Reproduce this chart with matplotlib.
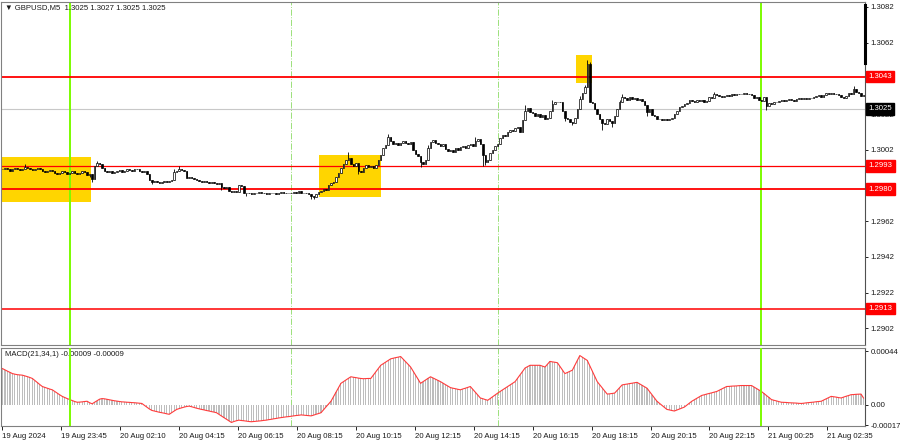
import numpy as np
import matplotlib
matplotlib.use("Agg")
import matplotlib.pyplot as plt
from matplotlib.patches import Rectangle
from matplotlib.transforms import blended_transform_factory

plt.rcParams["font.family"] = ["Liberation Sans", "DejaVu Sans"]

# prices are kept as pips above 1.2900
BASE = 1.2900
PIP = 0.0001

closes_pips = [
    91, 92, 91.5, 90, 91, 92, 91, 90.5, 91, 92.5, 92, 91, 90.5, 91.5, 92, 91, 90, 89.5, 90, 90.5,
    90, 89, 88.5, 89, 90, 89.5, 88.5, 89, 90, 89, 88.5, 89, 90, 89.5, 88, 88.5,
    85.5, 93, 94.5,
    94, 92, 90, 89.5, 90, 89, 89.5, 90, 90.5, 89.5, 90, 91, 90.5, 90, 91, 91.5, 90, 89.5, 90, 88.5,
    85, 84, 84.5, 84, 83.5, 84, 84.5, 84, 84.5, 85,
    89.5, 90, 91.5, 90.5, 90,
    86, 86.5, 86, 85.5,
    85, 84.5, 84, 84.5, 84, 83.5, 84, 83.5, 83, 83.5,
    81, 80.5, 81,
    79, 78.5, 79, 78.5,
    82, 81.5,
    78, 77.5, 78, 77, 77.5, 78, 78.5, 77.5, 78, 77, 77.5, 78, 77.5, 77, 78, 78.5, 77.5, 78, 77.5, 78, 78.5,
    78, 79, 78, 77.5, 78,
    77, 76, 75.5, 77,
    78.5, 79, 80, 79.5,
    82, 83.5, 84,
    87, 89,
    92, 94,
    96.5, 97.5,
    94, 93, 94.5,
    90, 89.5,
    92, 93.5, 92.5, 93, 92, 93.5,
    96, 99, 103, 104.5, 109,
    107, 105.5, 106, 104.5, 106, 107,
    106, 105, 106.5,
    102, 99.5, 98.5, 95, 94, 96, 103,
    106.5, 107.5, 106,
    105, 104, 105,
    102.5, 101.5, 102, 101,
    103, 102, 103.5, 104,
    103, 104.5, 105, 104,
    107, 108, 105, 99, 95, 96, 100, 102, 104, 105.5, 108.5, 110, 109.5,
    112, 113, 112.5, 114, 114.5, 112, 118.5, 124, 125.5, 123, 122.5,
    121, 122, 120.5, 121.5, 119.5, 120, 124, 127.5, 128.5, 129, 128.5,
    123.5, 120, 119.5, 117.5, 117, 120, 125, 130.5, 134, 137, 150, 129,
    128, 125, 122, 119, 117, 116.5, 119, 118, 117, 121, 125, 128.5, 131.5,
    131, 130, 131.5, 130.5, 131, 130, 130.5, 129.5, 127, 123, 125, 121.5, 121,
    119, 119.5, 118.5, 119, 118.5, 119.5, 120, 122, 124, 126, 126.5, 127.5, 128,
    130, 129.5, 129, 130, 129.5, 130, 129, 129.5, 131.5, 131, 133, 132.5,
    132, 131.5, 132, 132.5, 132, 133, 132.5, 133.5, 133, 133.5, 134, 133, 133.5, 132.5,
    131, 131.5, 130, 129.5, 131.5, 126.5, 128, 127.5, 129, 128.5, 129.5,
    130, 129.5, 130, 130.5, 130, 129.5, 130.5, 131, 130.5, 131, 130.5, 131,
    131, 131.5, 132, 132.5, 131.5, 132.5, 134, 133.5, 134, 133, 133.5, 132.5,
    131.5, 131, 132, 134, 133.5, 136, 134.5, 134, 132, 132.5,
]

highs_pips = {9: 94, 36: 88, 38: 95.5, 69: 91, 71: 93, 139: 100.5, 155: 111, 171: 104.5,
              190: 109, 210: 127, 221: 130, 232: 132, 234: 138.5, 235: 152.5, 236: 151,
              248: 130, 249: 133.5, 286: 134.5, 342: 137.5}
lows_pips = {35: 86.5, 36: 84, 60: 83, 88: 79.5, 98: 76, 124: 74.5, 125: 74.5, 143: 88.5,
             168: 92.5, 193: 93, 194: 93.5, 226: 118, 229: 116, 241: 113, 245: 114.5,
             259: 121, 307: 124.5}

# MACD(21,34,1) in units of 1e-5
macd_e5 = [
    29.6, 28.5, 27.5, 26.5, 25.5, 25.0, 24.6, 24.4, 24.2, 23.6, 23.0, 22.3, 21.5,
    19.8, 18.2, 16.5, 14.9, 14.2, 13.5, 12.8, 12.2, 10.8, 9.5, 8.1, 6.8, 5.9, 5.0, 4.2,
    3.4, 2.6, 2.0, 2.1, 2.3, 2.6, 2.8, 1.6, 0.7, 2.0, 3.3, 4.5, 5.0, 4.8, 4.4, 4.0, 3.6,
    3.2, 2.9, 2.6, 2.3, 2.2, 2.0, 1.9, 1.7, 1.6, 1.4, 1.2, 1.0, -0.5, -2.0, -3.5, -4.7,
    -5.2, -5.7, -6.2, -6.6, -7.0, -7.5, -7.9, -6.5, -5.2, -3.9, -3.2, -2.6, -2.0, -1.5, -1.2,
    -1.7, -2.3, -2.9, -3.4, -3.9, -4.3, -4.8, -5.2, -5.7, -6.1, -6.6, -8.0, -9.3, -10.6, -11.9,
    -13.2, -14.6, -13.8, -13.2, -12.7, -13.0, -13.2, -13.5, -13.8, -14.0,
    -13.8, -13.6, -13.4, -13.2, -12.9, -12.7, -12.3, -12.0, -11.6, -11.3, -10.9, -10.6,
    -10.3, -10.0, -9.8, -9.5, -9.2, -8.9, -8.7, -8.4, -8.6, -8.8, -9.0, -9.2,
    -8.6, -7.9, -7.3, -6.6, -4.2, -1.9, 0.5, 2.8, 6.5, 10.2, 13.8, 17.5,
    18.9, 20.2, 21.6, 22.9, 22.5, 22.2, 21.8, 21.5, 21.3, 21.4, 21.5, 21.5,
    24.2, 26.9, 29.6, 32.3, 33.6, 35.0, 36.3, 37.6, 38.1, 38.6, 39.0, 39.5,
    37.4, 35.2, 33.1, 30.9, 27.6, 24.2, 20.9, 17.5, 18.9, 20.2, 21.6, 22.9,
    21.9, 20.9, 19.9, 18.9, 17.7, 16.5, 15.2, 14.0, 13.5, 13.1, 12.6, 12.2,
    12.9, 13.5, 14.2, 14.9, 12.6, 10.2, 7.9, 5.5, 4.9, 4.2, 3.6, 5.1, 6.7, 8.2,
    9.5, 10.9, 12.2, 13.5, 14.9, 16.2, 17.6, 18.9, 21.7, 24.5, 27.3, 30.1, 31.2, 32.3,
    32.3, 32.3, 32.3, 32.3, 31.6, 30.9, 33.2, 35.5, 35.1, 34.8, 34.4, 31.4, 28.5, 25.5,
    26.4, 27.4, 28.3, 32.3, 36.3, 40.3, 39.0, 37.6, 36.3, 31.9, 27.6, 23.2, 18.9,
    16.3, 13.8, 11.2, 8.7, 8.9, 9.2, 9.5, 11.7, 14.0, 16.2,
    16.6, 16.9, 17.3, 17.6, 18.0, 18.3, 17.1, 15.9, 14.7, 13.5, 10.8, 8.2, 5.5, 2.8,
    1.1, -0.6, -2.2, -3.9, -4.3, -4.8, -5.2, -4.4, -3.6, -2.8, -2.0, -0.4, 1.2, 2.8,
    4.0, 5.2, 6.4, 7.6, 8.1, 8.7, 9.2, 9.7, 10.3, 10.8, 11.8, 12.9, 13.9, 14.9,
    15.0, 15.2, 15.3, 15.4, 15.6, 15.7, 15.7, 15.7, 15.7, 15.7, 14.5, 13.3, 12.0, 10.8,
    9.2, 7.5, 5.9, 4.2, 3.6, 3.1, 2.5, 2.0, 1.9, 1.8, 1.6, 1.5, 1.4, 1.3, 1.1, 1.0,
    1.2, 1.5, 1.7, 1.9, 2.1, 2.4, 2.6, 2.8, 3.8, 4.8, 5.8, 6.8, 6.5, 6.2, 5.8, 5.5,
    6.2, 6.9, 7.5, 8.2, 8.3, 8.5, 8.6, 8.7, 5.5,
]

levels = [1.3043, 1.2993, 1.2980, 1.2913]
level_lw = [1.3, 0.9, 1.3, 1.1]
current_price = 1.3025
price_ticks = [1.3082, 1.3062, 1.3042, 1.3022, 1.3002, 1.2982, 1.2962, 1.2942, 1.2922, 1.2902]
macd_ticks = [0.00044, 0.0, -0.00017]
macd_tick_labels = ["0.00044", "0.00", "-0.00017"]
date_pos = [0, 23.5, 47.2, 70.9, 94.6, 118.3, 142, 165.7, 189.4, 213, 236.8, 260.5, 284.1, 307.8, 331.5]
date_labels = ["19 Aug 2024", "19 Aug 23:45", "20 Aug 02:10", "20 Aug 04:15", "20 Aug 06:15",
               "20 Aug 08:15", "20 Aug 10:15", "20 Aug 12:15", "20 Aug 14:15", "20 Aug 16:15",
               "20 Aug 18:15", "20 Aug 20:15", "20 Aug 22:15", "21 Aug 00:25", "21 Aug 02:35"]
day_lines = [27, 305]
session_lines = [116, 199]
# (first bar, last bar, low price, high price)
boxes = [(-0.6, 35.6, 1.29728, 1.29982),
         (127.2, 152.2, 1.29756, 1.29991),
         (230.6, 237.0, 1.30394, 1.30551)]

n = min(len(closes_pips), len(macd_e5))
closes = BASE + np.array(closes_pips[:n]) * PIP
opens = np.concatenate([[closes[0]], closes[:-1]])
highs = np.maximum(opens, closes)
lows = np.minimum(opens, closes)
for b, v in highs_pips.items():
    if b < n:
        highs[b] = max(highs[b], BASE + v * PIP)
for b, v in lows_pips.items():
    if b < n:
        lows[b] = min(lows[b], BASE + v * PIP)
macd = np.array(macd_e5[:n]) * 1e-5
x = np.arange(n)

fig = plt.figure(figsize=(9, 4.41), dpi=100)
ax = fig.add_axes([1 / 900, 1 - 345 / 441, 864 / 900, 343 / 441])
ax2 = fig.add_axes([1 / 900, 1 - 426 / 441, 864 / 900, 78 / 441])

FS = 5.6
TXT = "#1a1a1a"
xlim = (-0.6, n - 0.4)

# ── price panel ──
for (b0, b1, lo, hi) in boxes:
    ax.add_patch(Rectangle((b0, lo), b1 - b0, hi - lo, facecolor="#ffd500", edgecolor="none", zorder=1))

ax.axhline(current_price, color="#c8c8c8", lw=0.8, zorder=1.5)
for lv, lw in zip(levels, level_lw):
    ax.axhline(lv, color="#ff0000", lw=lw, zorder=2)
for b in session_lines:
    ax.axvline(b, color="#9be07a", lw=0.7, ls="-.", zorder=1.6)
for b in day_lines:
    ax.axvline(b, color="#7cfc00", lw=1.4, zorder=1.6)

up = closes >= opens
ax.vlines(x, lows, highs, color="black", lw=0.6, zorder=3)
body = np.maximum(np.abs(closes - opens), 0.25 * PIP)
ax.bar(x[up], body[up], bottom=opens[up], width=0.6, color="white", edgecolor="black", lw=0.5, zorder=4)
ax.bar(x[~up], body[~up], bottom=closes[~up], width=0.6, color="black", edgecolor="black", lw=0.5, zorder=4)

ax.set_xlim(*xlim)
ax.set_ylim(1.28926, 1.30848)
ax.yaxis.tick_right()
ax.set_yticks(price_ticks)
ax.set_yticklabels([f"{p:.4f}" for p in price_ticks])
ax.tick_params(axis="y", labelsize=FS, length=2.5, width=0.6, pad=1.5, labelcolor=TXT)
ax.set_xticks([])
for s in ax.spines.values():
    s.set_color("#808080")
    s.set_linewidth(0.8)
ax.spines["right"].set_color("#505050")

ax.text(0.005, 0.993, "\u25bc GBPUSD,M5  1.3025 1.3027 1.3025 1.3025", transform=ax.transAxes,
        fontsize=FS, va="top", ha="left", color=TXT)

tr = blended_transform_factory(ax.transAxes, ax.transData)
for lv in levels:
    ax.text(1.004, lv, f"{lv:.4f}", transform=tr, fontsize=FS, color="white", va="center", ha="left",
            bbox=dict(boxstyle="square,pad=0.3", facecolor="#ff0000", edgecolor="#ff0000"),
            zorder=10, clip_on=False)
ax.text(1.004, current_price, f"{current_price:.4f}", transform=tr, fontsize=FS, color="white",
        va="center", ha="left", bbox=dict(boxstyle="square,pad=0.3", facecolor="black", edgecolor="black"),
        zorder=10, clip_on=False)
# marker on the price scale
ax.plot([xlim[1], xlim[1]], [1.30831, 1.30506], color="black", lw=2.2, clip_on=False, zorder=9)

# ── MACD panel ──
ax2.bar(x, macd, width=0.45, color="#bdbdbd", zorder=2)
ax2.plot(x, macd, color="#ff3b3b", lw=0.8, zorder=3)
for b in session_lines:
    ax2.axvline(b, color="#9be07a", lw=0.7, ls="-.", zorder=1)
for b in day_lines:
    ax2.axvline(b, color="#7cfc00", lw=1.4, zorder=4)
ax2.set_xlim(*xlim)
ax2.set_ylim(-0.000175, 0.000465)
ax2.yaxis.tick_right()
ax2.set_yticks(macd_ticks)
ax2.set_yticklabels(macd_tick_labels)
ax2.tick_params(axis="y", labelsize=FS, length=2.5, width=0.6, pad=1.5, labelcolor=TXT)
ax2.set_xticks(date_pos)
ax2.set_xticklabels(date_labels, ha="left")
ax2.tick_params(axis="x", labelsize=FS, length=3, width=0.6, pad=2, labelcolor=TXT)
for s in ax2.spines.values():
    s.set_color("#808080")
    s.set_linewidth(0.8)
ax2.spines["right"].set_color("#505050")
ax2.text(0.005, 0.96, "MACD(21,34,1) -0.00009 -0.00009", transform=ax2.transAxes,
         fontsize=FS, va="top", ha="left", color=TXT)

fig.savefig("out.png", dpi=100)
